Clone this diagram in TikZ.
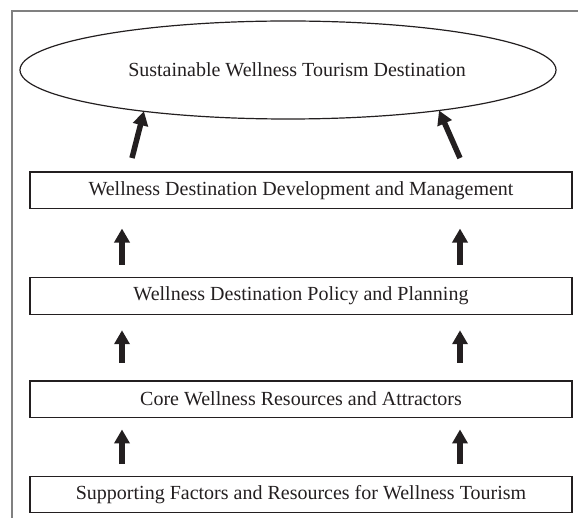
\documentclass[tikz,border=0pt]{standalone}
\usepackage{fontspec}
\setmainfont{Liberation Serif}
\usetikzlibrary{shapes.geometric,arrows.meta}

\definecolor{ink}{HTML}{231F20}
\definecolor{framegray}{HTML}{808080}

\tikzset{
  layerbox/.style={draw=ink, line width=1.1pt, minimum width=542pt, minimum height=36.5pt,
    inner sep=0pt, outer sep=0pt, text=ink, font=\fontsize{20}{24}\selectfont},
  goal/.style={ellipse, draw=ink, line width=1.2pt, minimum width=536pt, minimum height=98pt,
    inner sep=0pt, outer sep=0pt, text=ink, font=\fontsize{20}{24}\selectfont},
  bigarrow/.style={draw=ink, line width=5.5pt, -{Triangle[width=15pt,length=14pt]}},
  frameline/.style={draw=framegray, line width=1.4pt},
}

\begin{document}
\begin{tikzpicture}[x=1pt, y=-1pt]
  \useasboundingbox (0,0) rectangle (578,518);

  % open frame: left and top edges only
  \draw[frameline] (12,518) -- (12,11) -- (578,11);

  % goal and the four layers
  \node[goal] (goal) at (288,70) {\hspace*{18pt}Sustainable Wellness Tourism Destination};
  \node[layerbox] (dev)  at (301,190.3) {Wellness Destination Development and Management};
  \node[layerbox] (pol)  at (301,296)   {Wellness Destination Policy and Planning};
  \node[layerbox] (core) at (301,399.2) {Core Wellness Resources and Attractors};
  \node[layerbox] (sup)  at (301,494.3) {Supporting Factors and Resources for Wellness Tourism};

  % upward arrows between layers
  \foreach \dx in {-179,159} {
    \draw[bigarrow, shorten <=13pt, shorten >=20pt]
      ([xshift=\dx pt]pol.north) -- ([xshift=\dx pt]dev.south);
    \draw[bigarrow, shorten <=18pt, shorten >=16pt]
      ([xshift=\dx pt]core.north) -- ([xshift=\dx pt]pol.south);
    \draw[bigarrow, shorten <=12pt, shorten >=12pt]
      ([xshift=\dx pt]sup.north) -- ([xshift=\dx pt]core.south);
  }

  % slanted arrows into the goal
  \draw[bigarrow] ([shift={(-169,-14)}]dev.north) -- (goal.196.8);
  \draw[bigarrow] ([shift={(159,-14)}]dev.north) -- (goal.345);
\end{tikzpicture}
\end{document}
